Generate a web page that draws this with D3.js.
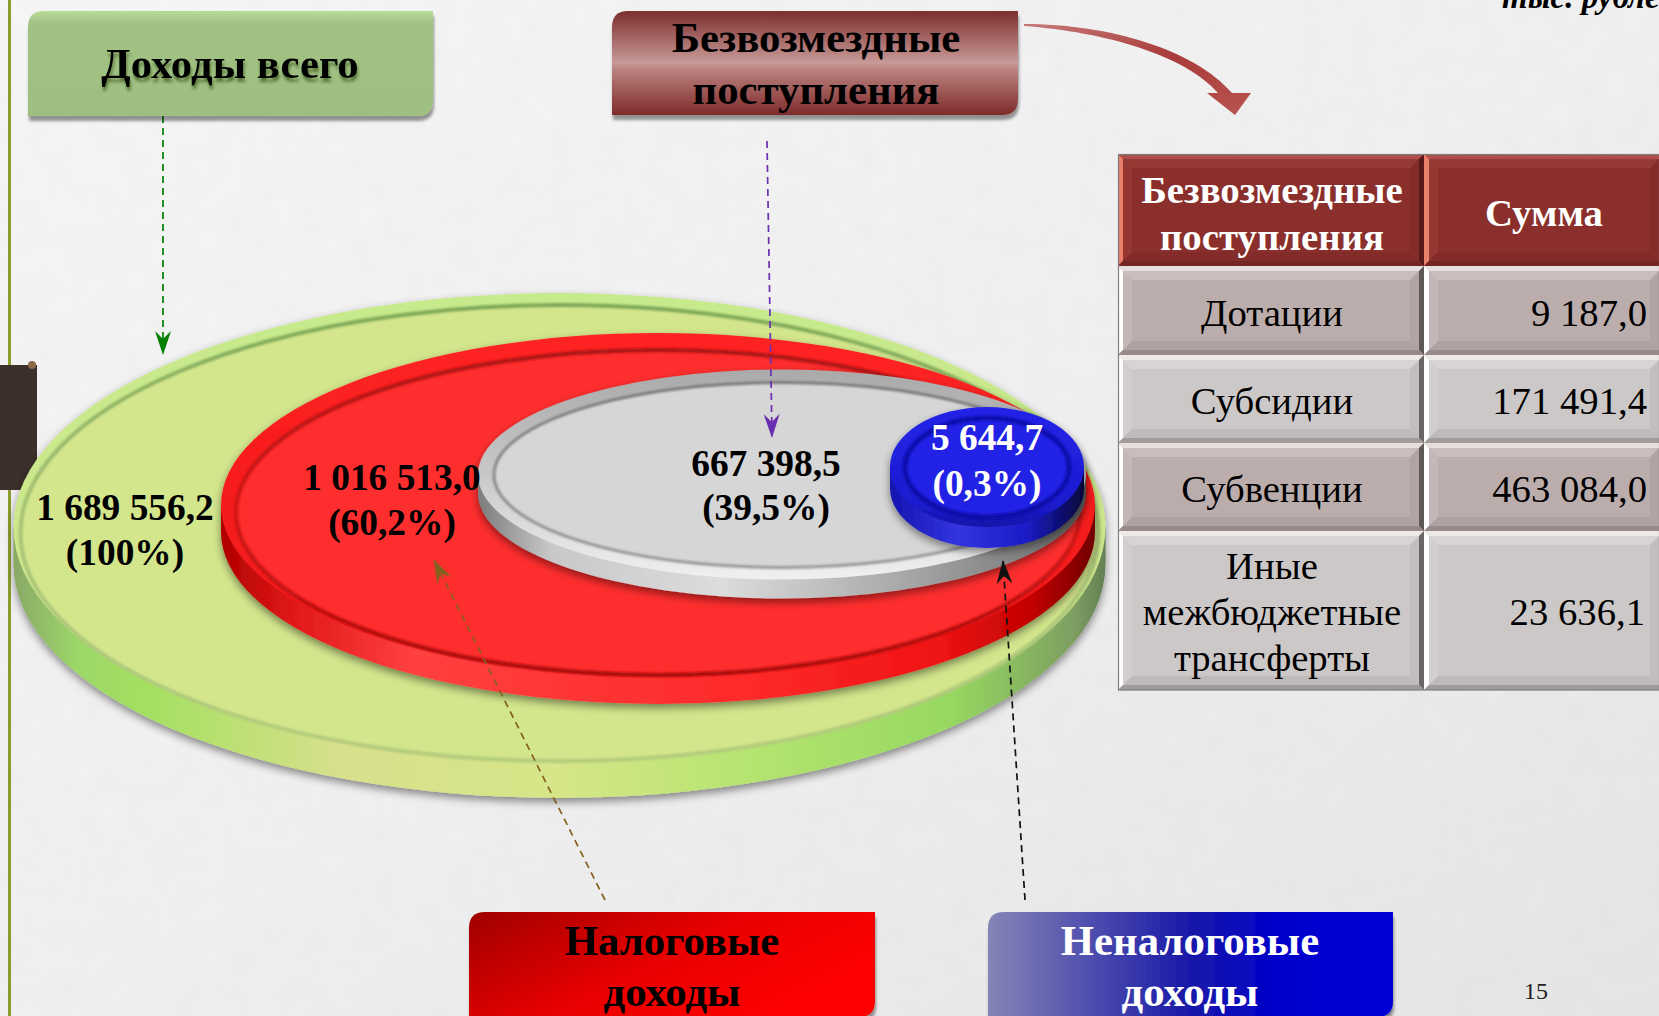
<!DOCTYPE html>
<html><head><meta charset="utf-8">
<script src="https://cdn.jsdelivr.net/npm/d3@7"></script>
<style>html,body{margin:0;padding:0;background:#eee;overflow:hidden}svg{display:block}text{font-family:"Liberation Serif","Times New Roman",serif}</style>
</head><body><svg id="c" width="1659" height="1016"></svg>
<script>
const discNames=["Неналоговые доходы","Безвозмездные поступления","Налоговые доходы","Доходы всего"];
const discValues=[5644.7,667398.5,1016513.0,1689556.2];
const discValueLabels=["5 644,7","667 398,5","1 016 513,0","1 689 556,2"];
const discPercentLabels=["(0,3%)","(39,5%)","(60,2%)","(100%)"];
const tableHeader=["Безвозмездные поступления","Сумма"];
const tableCategories=["Дотации","Субсидии","Субвенции","Иные межбюджетные трансферты"];
const tableValues=[9187.0,171491.4,463084.0,23636.1];
const tableValueLabels=["9 187,0","171 491,4","463 084,0","23 636,1"];

const svg=d3.select("#c"),defs=svg.append("defs");
const W=1659,H=1016;
function grad(id,stops,x1=0,y1=0,x2=1,y2=0){
  const g=defs.append("linearGradient").attr("id",id).attr("x1",x1).attr("y1",y1).attr("x2",x2).attr("y2",y2);
  stops.forEach(s=>g.append("stop").attr("offset",s[0]).attr("stop-color",s[1]));
}
grad("bg",[[0,"#f7f7f7"],[0.5,"#f1f1f1"],[1,"#e6e6e6"]],0,0,1,1);
const tx=defs.append("filter").attr("id","tex").attr("x",0).attr("y",0).attr("width",1).attr("height",1);
tx.append("feTurbulence").attr("type","fractalNoise").attr("baseFrequency",0.04).attr("numOctaves",3).attr("seed",4);
tx.append("feColorMatrix").attr("values","0 0 0 0 0.5 0 0 0 0 0.5 0 0 0 0 0.5 0 0 0 0.09 0");
const sh=defs.append("filter").attr("id","ds").attr("x","-10%").attr("y","-10%").attr("width","120%").attr("height","125%");
sh.append("feDropShadow").attr("dx",0).attr("dy",4).attr("stdDeviation",4).attr("flood-color","#000").attr("flood-opacity",0.45);
const bs=defs.append("filter").attr("id","bs").attr("x","-5%").attr("y","-5%").attr("width","110%").attr("height","120%");
bs.append("feDropShadow").attr("dx",1).attr("dy",5).attr("stdDeviation",1.5).attr("flood-color","#000").attr("flood-opacity",0.4);
const ts=defs.append("filter").attr("id","ts").attr("x","-5%").attr("y","-10%").attr("width","110%").attr("height","130%");
ts.append("feDropShadow").attr("dx",1).attr("dy",4).attr("stdDeviation",1.6).attr("flood-color","#1a3a00").attr("flood-opacity",0.55);
defs.append("filter").attr("id","soft").attr("x","-5%").attr("y","-5%").attr("width","110%").attr("height","110%")
  .append("feGaussianBlur").attr("stdDeviation",1.3);
defs.append("filter").attr("id","soft2").attr("x","-5%").attr("y","-5%").attr("width","110%").attr("height","110%")
  .append("feGaussianBlur").attr("stdDeviation",0.6);

svg.append("rect").attr("width",W).attr("height",H).attr("fill","url(#bg)");
svg.append("rect").attr("width",W).attr("height",H).attr("filter","url(#tex)");
svg.append("rect").attr("x",8).attr("y",0).attr("width",3).attr("height",H).attr("fill","#8a9c2c");
svg.append("rect").attr("x",0).attr("y",365).attr("width",37).attr("height",125).attr("fill","#3b302b");
svg.append("circle").attr("cx",32).attr("cy",365).attr("r",4).attr("fill","#8a6a48");

// Disc geometry, value -> screen, through piecewise scales
const rX=d3.scaleLinear().domain(discValues).range([97,304,437,546]);
const rY=d3.scaleLinear().domain(discValues).range([60,105,172,234]);
const cX=d3.scaleLinear().domain(discValues).range([987,782,658,559.5]);
const cY=d3.scaleLinear().domain(discValues).range([467,474.5,505,527]);
const dp=d3.scaleLinear().domain(discValues).range([21,19,27,37]);
const discStyle=[
 {face:"#2222e6",ring:"rgU",ix:15,it:11,ib:10,sw:5,side:"sB",lipF:"lB"},
 {face:"#d6d6d6",ring:"rgG",ix:16,it:13,ib:12,sw:3,side:"sG",lipF:"lG"},
 {face:"#ff2d2d",ring:"rgR",ix:15,it:17,ib:2,sw:4,side:"sR",lipF:"lR"},
 {face:"#d3e68c",ring:"rgV",ix:7,it:12,ib:0,sw:4,side:"sV",lipF:"lV"}
];
grad("sV",[[0,"#8aa866"],[0.06,"#9cd868"],[0.12,"#a4e060"],[0.3,"#d8e08c"],[0.5,"#d6e688"],[0.68,"#b4e470"],[0.86,"#96d860"],[0.97,"#7e9f62"],[1,"#647f54"]]);
grad("sR",[[0,"#b00000"],[0.08,"#e01818"],[0.22,"#ff4040"],[0.6,"#ff2a2a"],[0.82,"#f01414"],[0.93,"#c00000"],[1,"#700000"]]);
grad("sG",[[0,"#7c7c7c"],[0.12,"#c8c8c8"],[0.4,"#dcdcdc"],[0.7,"#a8a8a8"],[0.9,"#808080"],[1,"#585858"]]);
grad("sB",[[0,"#1414b0"],[0.35,"#3434e0"],[0.7,"#1c1cc8"],[1,"#05053a"]]);
grad("lV",[[0,"#c6ea8c"],[1,"#d3e68c"]],0,0,0,1);
grad("lR",[[0,"#ff2222"],[1,"#ee1818"]],0,0,0,1);
grad("lG",[[0,"#aaaaaa"],[0.5,"#c8c8c8"],[1,"#f0f0f0"]],0,0,0,1);
grad("lB",[[0,"#2424e8"],[0.8,"#1c1cd0"],[1,"#1414a8"]],0,0,0,1);
grad("rgV",[[0,"#7ea858"],[0.5,"#a8c478"],[1,"#b4cc7c"]],0,0,0,1);
grad("rgR",[[0,"#a81414"],[0.5,"#d01818"],[1,"#a80c0c"]],0,0,0,1);
grad("rgG",[[0,"#7a7a7a"],[1,"#9a9a9a"]],0,0,0,1);
grad("rgU",[[0,"#1010b0"],[1,"#0c0ca8"]],0,0,0,1);

const discs=discValues.map((v,i)=>({v,i,name:discNames[i],st:discStyle[i]})).sort((a,b)=>b.v-a.v);
const dg=svg.selectAll("g.disc").data(discs).join("g").attr("class","disc").attr("filter","url(#ds)");
dg.append("path").attr("d",d=>{
  const x=cX(d.v),y=cY(d.v),a=rX(d.v),b=rY(d.v),h=dp(d.v);
  return `M${x-a},${y}L${x-a},${y+h}A${a},${b} 0 0 0 ${x+a},${y+h}L${x+a},${y}Z`;
}).attr("fill",d=>`url(#${d.st.side})`);
dg.append("ellipse").attr("cx",d=>cX(d.v)).attr("cy",d=>cY(d.v)).attr("rx",d=>rX(d.v)).attr("ry",d=>rY(d.v))
  .attr("fill",d=>`url(#${d.st.lipF})`);
dg.append("ellipse").attr("cx",d=>cX(d.v))
  .attr("cy",d=>cY(d.v)+(d.st.it-d.st.ib)/2).attr("rx",d=>rX(d.v)-d.st.ix)
  .attr("ry",d=>rY(d.v)-(d.st.it+d.st.ib)/2).attr("fill",d=>d.st.face);
dg.append("ellipse").attr("cx",d=>cX(d.v))
  .attr("cy",d=>cY(d.v)+(d.st.it-d.st.ib)/2).attr("rx",d=>rX(d.v)-d.st.ix)
  .attr("ry",d=>rY(d.v)-(d.st.it+d.st.ib)/2).attr("fill","none")
  .attr("stroke",d=>`url(#${d.st.ring})`).attr("stroke-width",d=>d.st.sw).attr("filter","url(#soft)");

// Disc labels
const labelAnchors=[[987,450,496],[766,476,520],[392,490,535],[125,520,565]];
discValues.forEach((v,i)=>{
  const col=i===0?"#fff":"#000";
  const [x,y1,y2]=labelAnchors[i];
  [[discValueLabels[i],y1],[discPercentLabels[i],y2]].forEach(([t,y])=>{
    svg.append("text").attr("x",x).attr("y",y).attr("text-anchor","middle").attr("font-size",37.4)
      .attr("font-weight","bold").attr("fill",col).text(t);
  });
});

// Dashed arrows
function arrowDef(id,c){
  defs.append("marker").attr("id",id).attr("viewBox","0 0 24 16").attr("refX",23).attr("refY",8)
    .attr("markerWidth",24).attr("markerHeight",16).attr("markerUnits","userSpaceOnUse").attr("orient","auto")
    .append("path").attr("d","M0,0L24,8L0,16L8,8Z").attr("fill",c);
}
const arrowColors=["#008000","#6a2eb0","#86601e","#111111"];
const arrowPaths=[[[163,116],[163,354]],[[767,141],[772,437]],[[605,900],[434,560]],[[1025,900],[1003,561]]];
arrowColors.forEach((c,i)=>{
  arrowDef("a"+i,c);
  svg.append("path").attr("d",d3.line()(arrowPaths[i])).attr("fill","none").attr("stroke",c)
    .attr("stroke-width",1.7).attr("stroke-dasharray","7 5").attr("marker-end",`url(#a${i})`);
});

// Label boxes
function box(x,y,w,h,r){return `M${x+r},${y}H${x+w}V${y+h-r}Q${x+w},${y+h} ${x+w-r},${y+h}H${x}V${y+r}Q${x},${y} ${x+r},${y}Z`;}
grad("bV",[[0,"#b8dc96"],[0.12,"#a2c284"],[1,"#9fbf80"]],0,0,0,1);
grad("bM",[[0,"#7c2f2e"],[0.5,"#c89a98"],[0.58,"#b87e7c"],[1,"#7e2b2a"]],0,0,0,1);
grad("bR",[[0,"#a00000"],[0.55,"#e80000"],[1,"#ff0000"]],0,0,1,0.5);
grad("bB",[[0,"#8585b5"],[0.5,"#1818a8"],[0.72,"#0000cc"],[1,"#0000d6"]],0,0,1,0);
const boxes=[
 {x:28,y:11,w:405,h:105,f:"bV",c:"#000",lines:["Доходы всего"],ys:[78],tx:230,flt:"ts"},
 {x:612,y:11,w:406,h:104,f:"bM",c:"#000",lines:["Безвозмездные","поступления"],ys:[52,104],tx:816},
 {x:469,y:912,w:406,h:105,f:"bR",c:"#000",lines:["Налоговые","доходы"],ys:[955,1006],tx:672},
 {x:988,y:912,w:405,h:105,f:"bB",c:"#fff",lines:["Неналоговые","доходы"],ys:[955,1006],tx:1190}
];
boxes.forEach(b=>{
  svg.append("path").attr("d",box(b.x,b.y,b.w,b.h,16)).attr("fill",`url(#${b.f})`).attr("filter","url(#bs)");
  b.lines.forEach((t,i)=>svg.append("text").attr("x",b.tx).attr("y",b.ys[i]).attr("text-anchor","middle")
    .attr("font-size",42.8).attr("font-weight","bold").attr("fill",b.c).attr("filter",b.flt?`url(#${b.flt})`:null).text(t));
});

// Curved arrow
grad("ca",[[0,"#c67a78"],[0.5,"#a83c3a"],[1,"#b85450"]],0,0,1,1);
svg.append("path").attr("fill","url(#ca)")
 .attr("d","M1024,24C1110,24 1195,50 1232,93L1251,93L1235,115L1207,93L1218,93C1185,55 1105,32 1024,26Z");

// Table
const colX=d3.scaleOrdinal().domain([0,1]).range([1118,1424]);
const colW=[306,240];
const rowEdges=[154,266,355,443,531,690];
function cell(g,x,y,w,h,c){
  const b=5,m=14;
  g.append("rect").attr("x",x).attr("y",y).attr("width",w).attr("height",h).attr("fill",c.fill);
  const poly=(p,f,o=1)=>g.append("polygon").attr("points",p.map(q=>q.join(",")).join(" ")).attr("fill",f).attr("opacity",o);
  // inner, mild bevel tier
  poly([[x+b,y+b],[x+w-b,y+b],[x+w-m,y+m],[x+m,y+m]],c.t,0.35);
  poly([[x+b,y+b],[x+m,y+m],[x+m,y+h-m],[x+b,y+h-b]],c.l,0.12);
  poly([[x+w-b,y+b],[x+w-b,y+h-b],[x+w-m,y+h-m],[x+w-m,y+m]],c.r,0.1);
  poly([[x+b,y+h-b],[x+w-b,y+h-b],[x+w-m,y+h-m],[x+m,y+h-m]],c.b,0.3);
  // outer, strong bevel tier
  poly([[x,y],[x+w,y],[x+w-b,y+b],[x+b,y+b]],c.t);
  poly([[x,y],[x+b,y+b],[x+b,y+h-b],[x,y+h]],c.l);
  poly([[x+w,y],[x+w,y+h],[x+w-b,y+h-b],[x+w-b,y+b]],c.r);
  poly([[x,y+h],[x+w,y+h],[x+w-b,y+h-b],[x+b,y+h-b]],c.b);
}
const hStyle={fill:"#8a2f2b",t:"#ad4f49",l:"#ea7f6c",r:"#581a18",b:"#742622"};
const rA={fill:"#bcadad",t:"#e8dede",l:"#ffffff",r:"#5e5858",b:"#968a8a"};
const rB={fill:"#cdc8c8",t:"#efeaea",l:"#ffffff",r:"#6a6666",b:"#a09a9a"};
const tg=svg.append("g");
[0,1].forEach(c=>{
  cell(tg,colX(c),rowEdges[0],colW[c],rowEdges[1]-rowEdges[0],hStyle);
  tableCategories.forEach((n,r)=>cell(tg,colX(c),rowEdges[r+1],colW[c],rowEdges[r+2]-rowEdges[r+1],r%2?rB:rA));
});
tg.append("rect").attr("x",1118.5).attr("y",154.5).attr("width",541).attr("height",535.5).attr("fill","none").attr("stroke","#7d7d7d").attr("stroke-width",1.2);
const t1=(s,x,y,o={})=>tg.append("text").attr("x",x).attr("y",y).attr("text-anchor",o.a||"middle").attr("font-size",o.s||38.7)
  .attr("font-weight",o.w||"normal").attr("fill",o.c||"#000").text(s);
const headLines=["Безвозмездные","поступления"];
t1(headLines[0],1272,203,{w:"bold",c:"#fff",s:38.8});t1(headLines[1],1272,250,{w:"bold",c:"#fff",s:38.8});
t1(tableHeader[1],1544,226,{w:"bold",c:"#fff",s:38.8});
const catLines=[["Дотации"],["Субсидии"],["Субвенции"],["Иные","межбюджетные","трансферты"]];
const catYs=[[326],[414],[502],[579,625,671]];
const valYs=[326,414,502,625];
catLines.forEach((ls,r)=>ls.forEach((l,i)=>t1(l,1272,catYs[r][i])));
tableValueLabels.forEach((v,r)=>t1(v,r===3?1645:1647,valYs[r],{a:"end"}));

svg.append("text").attr("x",1502).attr("y",8).attr("font-size",33)
  .attr("font-weight","bold").attr("font-style","italic").text("тыс. рублей");
svg.append("text").attr("x",1536).attr("y",999).attr("text-anchor","middle").attr("font-size",24).attr("fill","#222").text("15");
</script></body></html>
